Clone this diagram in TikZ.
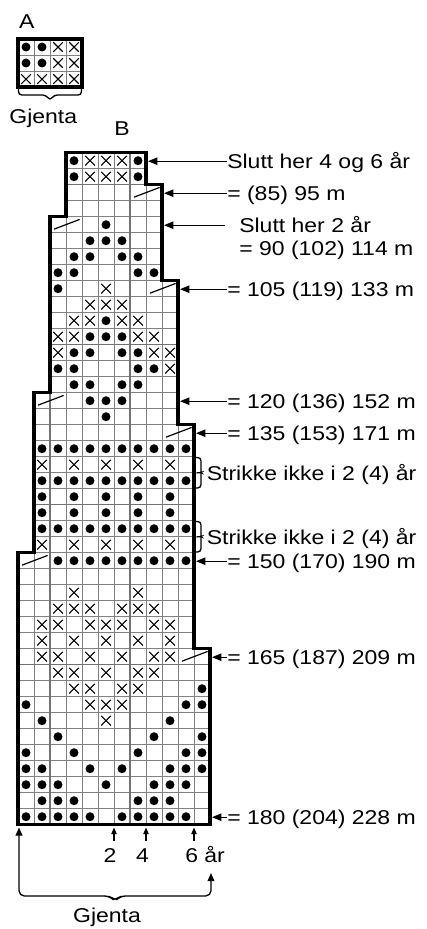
\documentclass[tikz,border=0pt]{standalone}
\usepackage{fontspec}
\setmainfont{Liberation Sans}[FakeStretch=1.15]
\usetikzlibrary{arrows.meta}
\begin{document}
\begin{tikzpicture}[x=0.75pt,y=-0.75pt,
  lbl/.style={inner sep=0pt, font=\fontsize{15}{18}\selectfont, text height=10.7pt, text depth=0pt},
  gridl/.style={draw=black!50, line width=0.6pt},
  gridt/.style={draw=black!55, line width=1.1pt},
  outl/.style={line width=2.5pt, line join=miter},
  arr/.style={line width=1pt, -{Triangle[length=7pt,width=5.5pt]}},
  sarr/.style={line width=1pt, -{Triangle[length=5pt,width=4pt]}},
  barr/.style={line width=1pt, {Triangle[length=6pt,width=5pt]}-{Triangle[length=6pt,width=5pt]}, rounded corners=4pt},
  brc/.style={line width=1pt, rounded corners=2.5pt},
  xm/.style={line width=0.8pt},
  slash/.style={line width=0.9pt},
  dotm/.style={fill=black},
]
\useasboundingbox (0,0) rectangle (427,929);

% ---------- Chart A ----------
\node[lbl] (labA) at (26.7,21) {A};
\begin{scope}[shift={(18,87)}, x=12pt, y=12pt]
  \foreach \i in {1,2,3} \draw[gridl] (\i,0) -- (\i,3);
  \foreach \j in {1,2} \draw[gridl] (0,\j) -- (4,\j);
  \foreach \r/\cs in {2/{0,1},1/{0,1}} \foreach \c in \cs
    \fill[dotm] (\c+0.5,\r+0.5) circle (0.28);
  \foreach \r/\cs in {2/{2,3},1/{2,3},0/{0,1,2,3}} \foreach \c in \cs
    \draw[xm] (\c+0.2,\r+0.2) -- (\c+0.8,\r+0.8) (\c+0.2,\r+0.8) -- (\c+0.8,\r+0.2);
  \draw[outl] (0,0) rectangle (4,3);
\end{scope}
\coordinate (aL) at (18.5,88.5);
\coordinate (aR) at (81.5,88.5);
\draw[brc] (aL) -- (18.5,95) -- (46,95) -- (50,100.5) -- (54,95) -- (81.5,95) -- (aR);
\node[lbl] (gjA) at (43.3,116) {Gjenta};

% ---------- Chart B ----------
\node[lbl] (labB) at (122,128) {B};
\begin{scope}[shift={(18,824.7)}, x=12pt, y=12pt]
  \begin{scope}
    \clip (0,0) -- (12,0) -- (12,11) -- (11,11) -- (11,25) -- (10,25) -- (10,34) -- (9,34) -- (9,40) -- (8,40) -- (8,42) -- (3,42) -- (3,38) -- (2,38) -- (2,27) -- (1,27) -- (1,17) -- (0,17) -- cycle;
    \foreach \i in {0,...,12} \draw[gridl] (\i,0) -- (\i,42);
    \foreach \j in {0,...,42} \draw[gridl] (0,\j) -- (12,\j);
    \draw[gridt] (0,10) -- (12,10) (0,20) -- (12,20) (0,30) -- (12,30) (0,40) -- (12,40)
                 (2,0) -- (2,42) (7,0) -- (7,42);
  \end{scope}
  % dots
  \foreach \r/\cs in {41/{3,7},40/{3,7},37/{5},36/{4,5,6},35/{3,4,6,7},34/{2,3,7,8},
      33/{2},31/{5},30/{4,5,6},29/{3,4,6,7},28/{2,3,7,8},27/{3,4,6,7},26/{4,5,6},25/{5},
      23/{1,...,10},21/{1,...,10},20/{1,3,5,7,9},19/{1,3,5,7,9},18/{1,...,10},16/{2,...,10},
      8/{11},7/{0,10,11},6/{1,9},5/{2,8,11},4/{0,3,7,10,11},3/{0,1,4,6,9,10,11},
      2/{0,1,2,5,8,9,10},1/{1,2,3,7,8,9},0/{0,1,2,3,4,6,7,8,9,10}}
    \foreach \c in \cs \fill[dotm] (\c+0.5,\r+0.5) circle (0.28);
  % crosses
  \foreach \r/\cs in {41/{4,5,6},40/{4,5,6},33/{5},32/{4,5,6},31/{3,4,6,7},30/{2,3,7,8},
      29/{2,8,9},28/{9},22/{1,3,5,7,9},17/{1,3,5,7,9},14/{3,7},13/{2,3,4,6,7,8},
      12/{1,2,4,5,6,8,9},11/{1,3,5,7,9},10/{1,2,4,6,8,9},9/{2,3,5,7,8},8/{3,4,6,7},
      7/{4,5,6},6/{5}}
    \foreach \c in \cs
      \draw[xm] (\c+0.2,\r+0.2) -- (\c+0.8,\r+0.8) (\c+0.2,\r+0.8) -- (\c+0.8,\r+0.2);
  % slashes
  \foreach \a/\r in {7/39,2/37,8/33,1/26,9/24,0/16,10/10}
    \draw[slash] (\a+0.25,\r+0.22) -- (\a+1.85,\r+0.83);
  % outline
  \draw[outl] (0,0) -- (12,0) -- (12,11) -- (11,11) -- (11,25) -- (10,25) -- (10,34) -- (9,34) -- (9,40) -- (8,40) -- (8,42) -- (3,42) -- (3,38) -- (2,38) -- (2,27) -- (1,27) -- (1,17) -- (0,17) -- cycle;
\end{scope}

% ---------- right labels ----------
\node[lbl,anchor=west] (t1) at (227,161.2) {Slutt her 4 og 6 år};
\coordinate (e1) at (148,161.2);
\draw[arr] (t1.west) -- (e1);

\node[lbl,anchor=west] (t2) at (227,193.2) {= (85) 95 m};
\coordinate (e2) at (164,193.2);
\draw[arr] (t2.west) -- (e2);

\node[lbl,anchor=west] (t3) at (239,225.2) {Slutt her 2 år};
\node[lbl,anchor=west] (t3b) at (239,248) {= 90 (102) 114 m};
\coordinate (s3) at (225,225.2);
\coordinate (e3) at (164,225.2);
\draw[arr] (s3) -- (e3);

\node[lbl,anchor=west] (t4) at (227,289.2) {= 105 (119) 133 m};
\coordinate (e4) at (180,289.2);
\draw[arr] (t4.west) -- (e4);

\node[lbl,anchor=west] (t5) at (227,401.2) {= 120 (136) 152 m};
\coordinate (e5) at (180,401.2);
\draw[arr] (t5.west) -- (e5);

\node[lbl,anchor=west] (t6) at (227,433.2) {= 135 (153) 171 m};
\coordinate (e6) at (196,433.2);
\draw[arr] (t6.west) -- (e6);

\draw[brc] (196,457.5) -- (201,457.5) -- (201,469.5) .. controls (201,471.5) and (203,472.7) .. (203.5,472.7) .. controls (203,472.7) and (201,473.9) .. (201,475.9) -- (201,488) -- (196,488);
\node[lbl,anchor=west] (k1) at (206.5,473.2) {Strikke ikke i 2 (4) år};
\draw[brc] (196,521.5) -- (201,521.5) -- (201,533.5) .. controls (201,535.5) and (203,536.7) .. (203.5,536.7) .. controls (203,536.7) and (201,537.9) .. (201,539.9) -- (201,552) -- (196,552);
\node[lbl,anchor=west] (k2) at (206.5,537.2) {Strikke ikke i 2 (4) år};

\node[lbl,anchor=west] (t7) at (227,561.2) {= 150 (170) 190 m};
\coordinate (e7) at (196,561.2);
\draw[arr] (t7.west) -- (e7);

\node[lbl,anchor=west] (t8) at (227,657.2) {= 165 (187) 209 m};
\coordinate (e8) at (212,657.2);
\draw[arr] (t8.west) -- (e8);

\node[lbl,anchor=west] (t9) at (227,817.2) {= 180 (204) 228 m};
\coordinate (e9) at (212,817.2);
\draw[arr] (t9.west) -- (e9);

% ---------- bottom ----------
\coordinate (b2s) at (114,841);  \coordinate (b2e) at (114,827.5);
\coordinate (b4s) at (146,841);  \coordinate (b4e) at (146,827.5);
\coordinate (b6s) at (194,841);  \coordinate (b6e) at (194,827.5);
\draw[sarr] (b2s) -- (b2e);
\draw[sarr] (b4s) -- (b4e);
\draw[sarr] (b6s) -- (b6e);
\node[lbl] (n2) at (110,855) {2};
\node[lbl] (n4) at (142.5,855) {4};
\node[lbl,anchor=west] (n6) at (185,855) {6 år};
\coordinate (gl) at (19,827.5);
\coordinate (gr) at (211,873);
\draw[barr] (gl) -- (19,896) -- (110,896) -- (115,901.5) -- (120,896) -- (211,896) -- (gr);
\node[lbl] (gjB) at (107,915) {Gjenta};
\end{tikzpicture}
\end{document}
